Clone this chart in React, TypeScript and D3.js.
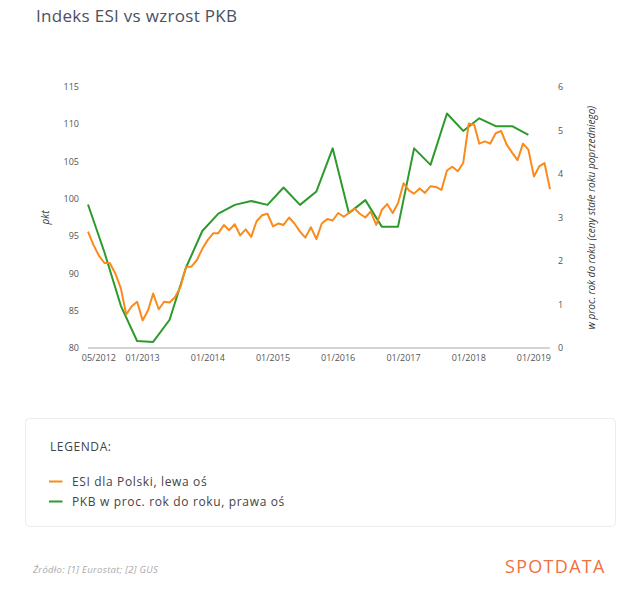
import { useEffect, useRef } from 'react'
import * as d3 from 'd3'

// ESI dla Polski, monthly from 03/2012 to 04/2019
const esiValues = [
  95.6, 93.8, 92.4, 91.4, 91.4, 90.0, 88.0, 84.5, 85.6, 86.2, 83.7, 85.1,
  87.3, 85.2, 86.2, 86.1, 86.8, 88.2, 90.9, 90.9, 91.8, 93.3, 94.5, 95.4,
  95.4, 96.5, 95.8, 96.6, 95.1, 95.9, 94.9, 97.0, 97.8, 98.0, 96.3, 96.7,
  96.5, 97.5, 96.7, 95.6, 94.8, 96.2, 94.6, 96.7, 97.3, 97.1, 98.1, 97.6,
  98.1, 98.7, 98.0, 97.5, 98.3, 96.5, 98.5, 99.3, 98.1, 99.4, 102.1, 101.1,
  100.7, 101.4, 100.8, 101.7, 101.6, 101.2, 103.8, 104.3, 103.7, 104.8, 110.1, 109.9,
  107.4, 107.7, 107.4, 108.8, 109.1, 107.3, 106.2, 105.2, 107.4, 106.6, 103.0, 104.4,
  104.8, 101.3,
]

// PKB r/r, quarterly (end-of-quarter month) from 03/2012 to 12/2018
const gdpValues = [
  3.3, 2.2, 0.97, 0.16, 0.14, 0.65, 1.85, 2.69, 3.09, 3.29, 3.38, 3.29,
  3.69, 3.29, 3.6, 4.59, 3.1, 3.4, 2.79, 2.79, 4.59, 4.21, 5.39, 4.99,
  5.28, 5.1, 5.1, 4.9,
]

const startYear = 2012
const startMonth = 2 // March
const xTickLabels = ['05/2012', '01/2013', '01/2014', '01/2015', '01/2016', '01/2017', '01/2018', '01/2019']
const leftTicks = [80, 85, 90, 95, 100, 105, 110, 115]
const rightTicks = [0, 1, 2, 3, 4, 5, 6]
const legendLabels = ['ESI dla Polski, lewa oś', 'PKB w proc. rok do roku, prawa oś']

const ORANGE = '#fb8a1c'
const GREEN = '#2c9a2c'
const FONT = '"Open Sans", "Noto Sans", sans-serif'

const parseLabel = (s: string) => {
  const [m, y] = s.split('/').map(Number)
  return new Date(y, m - 1, 1)
}

export default function App() {
  const svgRef = useRef<SVGSVGElement>(null)

  useEffect(() => {
    if (!svgRef.current) return
    const svg = d3.select(svgRef.current)
    svg.selectAll('*').remove()

    const esi = esiValues.map((v, i) => ({ date: new Date(startYear, startMonth + i, 1), v }))
    const gdp = gdpValues.map((v, i) => ({ date: new Date(startYear, startMonth + i * 3, 1), v }))

    const x = d3.scaleTime()
      .domain([esi[0].date, esi[esi.length - 1].date])
      .range([88, 550])
    const yLeft = d3.scaleLinear().domain([80, 115]).range([348, 87])
    const yRight = d3.scaleLinear().domain([0, 6]).range([348, 87])

    svg.append('rect').attr('width', 640).attr('height', 594).attr('fill', '#fff')

    // Title
    svg.append('text')
      .attr('x', 36)
      .attr('y', 22)
      .attr('font-family', FONT)
      .attr('font-size', 17)
      .attr('letter-spacing', 0.3)
      .attr('fill', '#4b5063')
      .text('Indeks ESI vs wzrost PKB')

    // Left axis ticks
    svg.append('g')
      .selectAll('text')
      .data(leftTicks)
      .join('text')
      .attr('x', 79)
      .attr('y', d => yLeft(d))
      .attr('dy', '0.35em')
      .attr('text-anchor', 'end')
      .attr('font-family', FONT)
      .attr('font-size', 9)
      .attr('fill', '#555')
      .text(d => d)

    // Right axis ticks
    svg.append('g')
      .selectAll('text')
      .data(rightTicks)
      .join('text')
      .attr('x', 558)
      .attr('y', d => yRight(d))
      .attr('dy', '0.35em')
      .attr('font-family', FONT)
      .attr('font-size', 9)
      .attr('fill', '#555')
      .text(d => d)

    // X axis baseline
    svg.append('line')
      .attr('x1', x.range()[0])
      .attr('x2', x.range()[1])
      .attr('y1', yLeft(80))
      .attr('y2', yLeft(80))
      .attr('stroke', '#c4c4c4')
      .attr('stroke-width', 1.5)

    svg.append('g')
      .selectAll('text')
      .data(xTickLabels)
      .join('text')
      .attr('x', d => x(parseLabel(d)))
      .attr('y', 361)
      .attr('text-anchor', 'middle')
      .attr('font-family', FONT)
      .attr('font-size', 9)
      .attr('fill', '#555')
      .text(d => d)

    // Axis titles
    svg.append('text')
      .attr('transform', `translate(49,${(yLeft(80) + yLeft(115)) / 2}) rotate(-90)`)
      .attr('text-anchor', 'middle')
      .attr('font-family', FONT)
      .attr('font-size', 10)
      .attr('font-style', 'italic')
      .attr('fill', '#333')
      .text('pkt')

    svg.append('text')
      .attr('transform', `translate(595,${(yRight(0) + yRight(6)) / 2}) rotate(-90)`)
      .attr('text-anchor', 'middle')
      .attr('font-family', FONT)
      .attr('font-size', 10)
      .attr('font-style', 'italic')
      .attr('fill', '#333')
      .text('w proc. rok do roku (ceny stałe roku poprzedniego)')

    // Lines
    const esiLine = d3.line<{ date: Date; v: number }>()
      .x(d => x(d.date))
      .y(d => yLeft(d.v))
    const gdpLine = d3.line<{ date: Date; v: number }>()
      .x(d => x(d.date))
      .y(d => yRight(d.v))

    svg.append('path')
      .datum(gdp)
      .attr('fill', 'none')
      .attr('stroke', GREEN)
      .attr('stroke-width', 2)
      .attr('stroke-linejoin', 'round')
      .attr('d', gdpLine)

    svg.append('path')
      .datum(esi)
      .attr('fill', 'none')
      .attr('stroke', ORANGE)
      .attr('stroke-width', 2)
      .attr('stroke-linejoin', 'round')
      .attr('d', esiLine)

    // Legend box
    const legend = svg.append('g')
    legend.append('rect')
      .attr('x', 25.5)
      .attr('y', 418.5)
      .attr('width', 590)
      .attr('height', 108)
      .attr('rx', 4)
      .attr('fill', '#fff')
      .attr('stroke', '#ececec')

    legend.append('text')
      .attr('x', 50)
      .attr('y', 451)
      .attr('font-family', FONT)
      .attr('font-size', 12)
      .attr('letter-spacing', 0.6)
      .attr('fill', '#444')
      .text('LEGENDA:')

    const colors = [ORANGE, GREEN]
    legendLabels.forEach((label, i) => {
      const cy = 481.5 + i * 20
      legend.append('line')
        .attr('x1', 49)
        .attr('x2', 62.5)
        .attr('y1', cy)
        .attr('y2', cy)
        .attr('stroke', colors[i])
        .attr('stroke-width', 2)
      legend.append('text')
        .attr('x', 72)
        .attr('y', cy)
        .attr('dy', '0.35em')
        .attr('font-family', FONT)
        .attr('font-size', 12)
        .attr('letter-spacing', 0.65)
        .attr('fill', '#444')
        .text(label)
    })

    // Footer
    svg.append('text')
      .attr('x', 33)
      .attr('y', 573)
      .attr('font-family', FONT)
      .attr('font-size', 9.5)
      .attr('letter-spacing', 0.3)
      .attr('font-style', 'italic')
      .attr('fill', '#aaa')
      .text('Źródło: [1] Eurostat; [2] GUS')

    svg.append('text')
      .attr('x', 505)
      .attr('y', 572.5)
      .attr('font-family', FONT)
      .attr('font-size', 18)
      .attr('letter-spacing', 1.3)
      .attr('fill', '#f2703f')
      .text('SPOTDATA')
  }, [])

  return (
    <svg
      ref={svgRef}
      width={640}
      height={594}
      style={{ position: 'absolute', left: 0, top: 0 }}
    />
  )
}
